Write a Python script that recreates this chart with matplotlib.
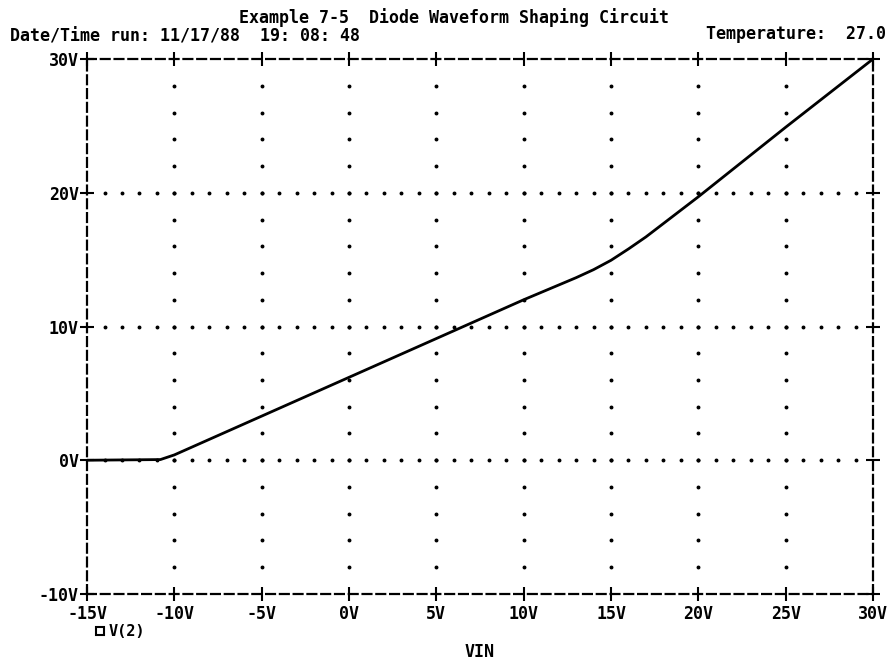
import numpy as np
import matplotlib
matplotlib.use("Agg")
import matplotlib.pyplot as plt
from matplotlib.lines import Line2D

# transfer curve of the diode shaping circuit, V(2) against VIN
vin = [-15, -10.8, -10, -5, 0, 5, 10, 11, 12, 13, 14, 15, 16, 17, 18, 20, 25, 30]
v2 = [0, 0.05, 0.4, 3.3, 6.2, 9.1, 12.0, 12.55, 13.1, 13.65, 14.25, 14.95,
      15.8, 16.7, 17.7, 19.7, 24.9, 30]

xticks = [-15, -10, -5, 0, 5, 10, 15, 20, 25, 30]
yticks = [-10, 0, 10, 20, 30]
xlabels = ["-15V", "-10V", "-5V", "0V", "5V", "10V", "15V", "20V", "25V", "30V"]
ylabels = ["-10V", "0V", "10V", "20V", "30V"]

title = "Example 7-5  Diode Waveform Shaping Circuit"
runinfo = "Date/Time run: 11/17/88  19: 08: 48"
temp = "Temperature:  27.0"

plt.rcParams["font.family"] = "DejaVu Sans Mono"
plt.rcParams["font.weight"] = "bold"
fs = 12

fig = plt.figure(figsize=(8.9, 6.61), dpi=100)
ax = fig.add_axes([0.0978, 0.1014, 0.8831, 0.8093])
ax.set_xlim(-15, 30)
ax.set_ylim(-10, 30)

# dotted grid: dots every 2V on verticals, every 1V on horizontals
for x in xticks[1:-1]:
    ys = np.arange(-8, 30, 2)
    ax.plot([x] * len(ys), ys, ls="none", marker="o", ms=1.8, color="black")
for y in yticks[1:-1]:
    xs = np.arange(-14, 30, 1)
    ax.plot(xs, [y] * len(xs), ls="none", marker="o", ms=1.8, color="black")

ax.plot(vin, v2, color="black", lw=2)

for s in ax.spines.values():
    s.set_linestyle((0, (4, 2.2)))
    s.set_linewidth(1.6)

ax.set_xticks(xticks)
ax.set_xticklabels(xlabels)
ax.set_yticks(yticks)
ax.set_yticklabels(ylabels)
ax.tick_params(direction="inout", length=10, width=1.5, top=True, right=True,
               labelsize=fs, pad=3)
ax.tick_params(axis="y", pad=1)

ax.set_xlabel("VIN", fontsize=fs, fontweight="bold", labelpad=14)

fig.text(0.51, 0.973, title, ha="center", va="center", fontsize=fs)
fig.text(0.011, 0.945, runinfo, ha="left", va="center", fontsize=fs)
fig.text(0.995, 0.948, temp, ha="right", va="center", fontsize=fs)

# trace marker for V(2) under the x axis
fig.add_artist(Line2D([0.112], [0.045], marker="s", ms=6, mfc="white",
                      mec="black", mew=1.5, transform=fig.transFigure))
fig.text(0.122, 0.045, "V(2)", ha="left", va="center", fontsize=fs - 1)

fig.savefig("out.png", dpi=100, facecolor="white")
